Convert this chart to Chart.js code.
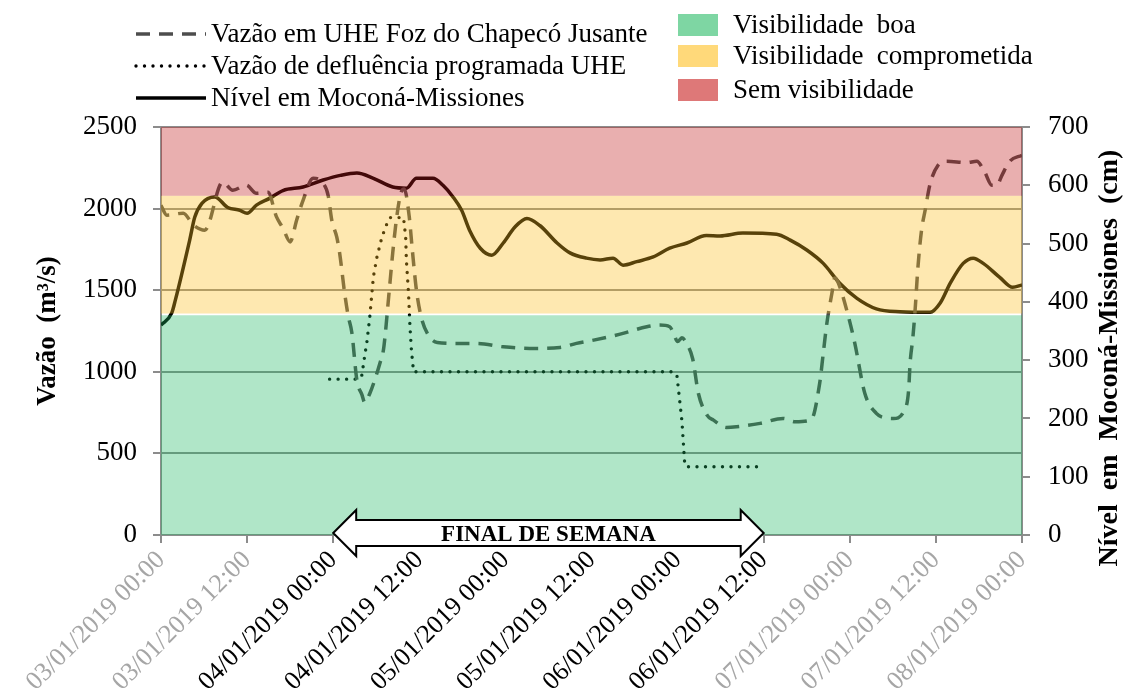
<!DOCTYPE html>
<html>
<head>
<meta charset="utf-8">
<script src="https://cdn.jsdelivr.net/npm/chart.js@4.4.0/dist/chart.umd.min.js"></script>
<style>
  html, body { margin: 0; padding: 0; background: #fff; }
</style>
</head>
<body>
<canvas id="chart" width="1127" height="693"></canvas>
<script>
// ── Data ───────────────────────────────────────────────
// hours counted from 03/01/2019 00:00
const xTickLabels = [
    "03/01/2019 00:00", "03/01/2019 12:00", "04/01/2019 00:00", "04/01/2019 12:00",
    "05/01/2019 00:00", "05/01/2019 12:00", "06/01/2019 00:00", "06/01/2019 12:00",
    "07/01/2019 00:00", "07/01/2019 12:00", "08/01/2019 00:00"
];
const weekendTicks = [2, 3, 4, 5, 6, 7];   // labels printed in black
const weekendStart = 24;                   // hours
const weekendEnd   = 84;

// Vazão em UHE Foz do Chapecó Jusante (m³/s)
const flowHours = [0, 0.8, 3.1, 4.5, 6.1, 8.6, 10, 11.9, 13.3, 14.9, 16.1, 17, 18, 18.9, 19.8, 21.2,
    22.6, 23.3, 23.8, 24.5, 24.9, 25.6, 26.1, 26.6, 27.3, 28, 28.4, 29.1, 29.9, 30.5, 31, 31.3,
    31.6, 31.9, 32.3, 32.8, 33.4, 33.9, 34.6, 35, 35.6, 36.3, 37.2, 38.5, 41.7, 44, 47.7, 51.4,
    55.6, 57.9, 60.3, 64, 67.7, 69.5, 70.9, 71.4, 72, 72.6, 73.3, 74.1, 74.9, 76.1, 77, 78.8,
    80.2, 83.5, 86.7, 88.4, 90.6, 91.8, 92.3, 92.8, 93.5, 93.9, 94.3, 95.8, 96.7, 98.1, 99.7,
    100.7, 102.1, 103.5, 104.2, 104.4, 104.8, 105.1, 105.5, 106, 106.5, 107.2, 108.3, 109.5,
    112.3, 113.7, 114.8, 115.8, 116.5, 117.2, 118.3, 120];
const flowValues = [2020, 1960, 1972, 1900, 1868, 2163, 2112, 2143, 2094, 2100, 1949, 1880, 1796, 1929, 2051, 2186,
    2155, 2080, 1929, 1825, 1727, 1480, 1340, 1240, 949, 860, 812, 867, 965, 1051, 1133, 1250,
    1396, 1540, 1730, 1930, 2090, 2120, 1950, 1760, 1500, 1330, 1230, 1180, 1174, 1174, 1153, 1143,
    1149, 1174, 1194, 1231, 1276, 1286, 1276, 1240, 1185, 1208, 1170, 1080, 867, 735, 704, 659,
    663, 684, 714, 694, 705, 929, 1113, 1296, 1480, 1575, 1555, 1340, 1174, 867, 745,
    720, 714, 755, 888, 1051, 1214, 1378, 1643, 1868, 1990, 2153, 2265, 2290,
    2282, 2290, 2224, 2143, 2143, 2204, 2290, 2327];

// Vazão de defluência programada UHE (m³/s)
const planHours  = [23.5, 27.5, 28, 28.3, 28.7, 29.1, 29.6, 30.1, 30.8, 31.5, 31.9, 33.8, 34.1, 34.2,
    34.5, 34.7, 34.9, 35.2, 71.4, 71.9, 72.6, 73, 73.2, 83.7];
const planValues = [955, 955, 980, 1071, 1184, 1337, 1582, 1704, 1827, 1909, 1945, 1945, 1827, 1684,
    1480, 1276, 1133, 1000, 1000, 980, 700, 430, 418, 418];

// Nível em Moconá-Missiones (cm)
const levelHours = [0, 1.5, 2, 4, 4.7, 5.7, 7.5, 9.3, 11, 12, 13.3, 15.2, 17, 19.8, 22.6, 25, 27.3,
    29.6, 32.3, 34.2, 35.6, 37.9, 39.3, 40.7, 41.9, 43, 44.5, 46.1, 47.7, 49.3, 51, 52.8, 55.2,
    57, 59.3, 61.2, 63, 64.4, 66.3, 68.6, 70.9, 73.3, 76, 77.9, 81.1, 85.8, 87.7, 90, 92.3,
    94.6, 97, 99.7, 103, 107.2, 108.6, 110, 111.8, 113.2, 114.6, 116.9, 118.7, 120];
const levelValues = [360, 381, 403, 506, 545, 569, 580, 562, 557, 552, 566, 578, 591, 597, 609, 617, 621,
    612, 597, 595, 612, 612, 600, 580, 557, 523, 492, 480, 501, 528, 543, 531, 501,
    484, 475, 472, 475, 463, 469, 477, 492, 501, 514, 513, 518, 516, 506, 489, 466,
    432, 406, 388, 383, 382, 398, 432, 466, 475, 466, 442, 425, 429];

// visibility bands, in cm (right axis)
const bandNames = ["Visibilidade  boa", "Visibilidade  comprometida", "Sem visibilidade"];
const bandFrom  = [0, 380, 582];
const bandTo    = [377, 582, 700];

// ── Styles ─────────────────────────────────────────────
const SERIF  = "'Liberation Serif', 'Times New Roman', serif";
const GRAY   = "#8c8c8c";
const bandOverlay = ["rgb(29,184,98)", "rgb(252,189,29)", "rgb(192,26,26)"];
const bandSwatch  = ["#7ed6a3", "#ffd97a", "#de7878"];

const toPoints = (xs, ys) => xs.map((x, i) => ({ x: x, y: ys[i] }));

// ── Plugins ────────────────────────────────────────────
const bandsPlugin = {
    id: "bands",
    afterDatasetsDraw(chart) {
        const { ctx, chartArea: a } = chart;
        const yLevel = chart.scales.yLevel;
        ctx.save();
        ctx.globalAlpha = 0.35;
        bandFrom.forEach((from, i) => {
            const top = yLevel.getPixelForValue(bandTo[i]);
            const bot = yLevel.getPixelForValue(from);
            ctx.fillStyle = bandOverlay[i];
            ctx.fillRect(a.left, top, a.right - a.left, bot - top);
        });
        ctx.restore();
    }
};

const decorPlugin = {
    id: "decor",
    afterDraw(chart) {
        const { ctx } = chart;
        const x = chart.scales.x;
        ctx.save();

        // line legend
        const lineRows = [
            { y: 34, dash: [14, 9], color: "#4d4d4d", width: 3.5, cap: "butt" },
            { y: 66, dash: [0, 8.5], color: "#000", width: 3.4, cap: "round" },
            { y: 98, dash: [], color: "#000", width: 3.5, cap: "butt" }
        ];
        chart.data.datasets.forEach((ds, i) => {
            const r = lineRows[i];
            ctx.beginPath();
            ctx.setLineDash(r.dash);
            ctx.lineCap = r.cap;
            ctx.strokeStyle = r.color;
            ctx.lineWidth = r.width;
            ctx.moveTo(136, r.y);
            ctx.lineTo(206, r.y);
            ctx.stroke();
            ctx.setLineDash([]);
            ctx.fillStyle = "#000";
            ctx.font = "27px " + SERIF;
            ctx.textAlign = "left";
            ctx.textBaseline = "middle";
            ctx.fillText(ds.label, 211, r.y + 1);
        });

        // band legend
        const boxY = [14, 45, 79];
        bandNames.forEach((name, i) => {
            ctx.fillStyle = bandSwatch[i];
            ctx.fillRect(678, boxY[i], 40, 22);
            ctx.fillStyle = "#000";
            ctx.fillText(name, 733, boxY[i] + 12);
        });

        // right axis title
        ctx.save();
        ctx.translate(1110, 358);
        ctx.rotate(-Math.PI / 2);
        ctx.font = "bold 28px " + SERIF;
        ctx.textAlign = "center";
        ctx.textBaseline = "middle";
        ctx.fillText("Nível  em  Moconá-Missiones  (cm)", 0, 0);
        ctx.restore();

        // weekend double arrow
        const xl = x.getPixelForValue(weekendStart);
        const xr = x.getPixelForValue(weekendEnd);
        const yc = 533, head = 23, body = 13, headLen = 23;
        ctx.beginPath();
        ctx.moveTo(xl, yc);
        ctx.lineTo(xl + headLen, yc - head);
        ctx.lineTo(xl + headLen, yc - body);
        ctx.lineTo(xr - headLen, yc - body);
        ctx.lineTo(xr - headLen, yc - head);
        ctx.lineTo(xr, yc);
        ctx.lineTo(xr - headLen, yc + head);
        ctx.lineTo(xr - headLen, yc + body);
        ctx.lineTo(xl + headLen, yc + body);
        ctx.lineTo(xl + headLen, yc + head);
        ctx.closePath();
        ctx.fillStyle = "#fff";
        ctx.fill();
        ctx.lineWidth = 2;
        ctx.strokeStyle = "#000";
        ctx.stroke();
        ctx.fillStyle = "#000";
        ctx.font = "bold 23px " + SERIF;
        ctx.textAlign = "center";
        ctx.textBaseline = "middle";
        ctx.fillText("FINAL DE SEMANA", (xl + xr) / 2, yc + 2);

        ctx.restore();
    }
};

// ── Chart ──────────────────────────────────────────────
new Chart(document.getElementById("chart"), {
    type: "line",
    data: {
        datasets: [
            {
                label: "Vazão em UHE Foz do Chapecó Jusante",
                data: toPoints(flowHours, flowValues),
                yAxisID: "yFlow",
                borderColor: "#4d4d4d",
                borderWidth: 3.5,
                borderDash: [14, 9],
                pointRadius: 0,
                cubicInterpolationMode: "monotone"
            },
            {
                label: "Vazão de defluência programada UHE",
                data: toPoints(planHours, planValues),
                yAxisID: "yFlow",
                borderColor: "#000",
                borderWidth: 3.4,
                borderDash: [0, 8.5],
                borderCapStyle: "round",
                pointRadius: 0,
                tension: 0
            },
            {
                label: "Nível em Moconá-Missiones",
                data: toPoints(levelHours, levelValues),
                yAxisID: "yLevel",
                borderColor: "#000",
                borderWidth: 3.5,
                pointRadius: 0,
                cubicInterpolationMode: "monotone"
            }
        ]
    },
    options: {
        responsive: false,
        animation: false,
        devicePixelRatio: 1,
        layout: { padding: { top: 127, left: 0, right: 0, bottom: 0 } },
        plugins: { legend: { display: false }, tooltip: { enabled: false } },
        scales: {
            x: {
                type: "linear",
                min: 0,
                max: 120,
                afterFit: s => { s.height = 158; },
                afterBuildTicks: s => { s.ticks = xTickLabels.map((_, i) => ({ value: i * 12 })); },
                ticks: {
                    autoSkip: false,
                    maxRotation: 45,
                    minRotation: 45,
                    padding: 2,
                    font: { family: SERIF, size: 26 },
                    color: c => weekendTicks.includes(c.index) ? "#000" : "#a6a6a6",
                    callback: (v, i) => xTickLabels[i]
                },
                grid: { drawOnChartArea: false, color: GRAY, lineWidth: 2, tickLength: 8 },
                border: { color: GRAY, width: 2 }
            },
            yFlow: {
                position: "left",
                min: 0,
                max: 2500,
                afterFit: s => { s.width = 161; },
                ticks: {
                    stepSize: 500, padding: 16, color: "#000",
                    font: { family: SERIF, size: 27 },
                    callback: v => String(v)
                },
                grid: { color: GRAY, lineWidth: 2, tickLength: 8 },
                border: { color: GRAY, width: 2 },
                title: {
                    display: true,
                    text: "Vazão  (m³/s)",
                    color: "#000",
                    font: { family: SERIF, size: 27, weight: "bold" },
                    padding: { top: 32, bottom: 0 }
                }
            },
            yLevel: {
                position: "right",
                min: 0,
                max: 700,
                afterFit: s => { s.width = 105; },
                ticks: {
                    stepSize: 100, padding: 18, color: "#000",
                    font: { family: SERIF, size: 27 },
                    callback: v => String(v)
                },
                grid: { drawOnChartArea: false, color: GRAY, lineWidth: 2, tickLength: 8 },
                border: { color: GRAY, width: 2 }
            }
        }
    },
    plugins: [bandsPlugin, decorPlugin]
});
</script>
</body>
</html>
